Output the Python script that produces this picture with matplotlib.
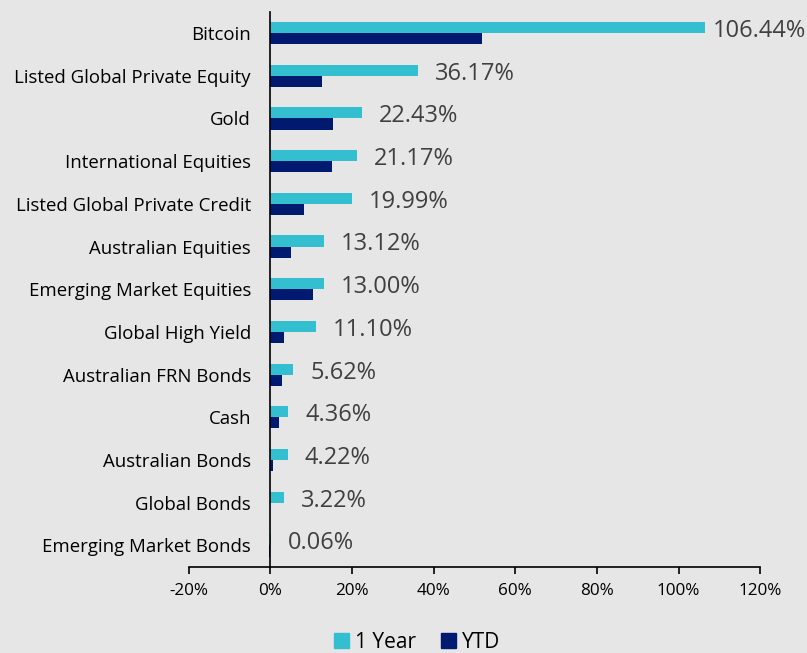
import matplotlib.pyplot as plt
from matplotlib.patches import Patch
import numpy as np

plt.rcParams['font.family'] = ['Open Sans', 'DejaVu Sans']

# asset class returns (%)
categories = ['Bitcoin', 'Listed Global Private Equity', 'Gold', 'International Equities',
              'Listed Global Private Credit', 'Australian Equities', 'Emerging Market Equities',
              'Global High Yield', 'Australian FRN Bonds', 'Cash', 'Australian Bonds',
              'Global Bonds', 'Emerging Market Bonds']
one_year = [106.44, 36.17, 22.43, 21.17, 19.99, 13.12, 13.00, 11.10, 5.62, 4.36, 4.22, 3.22, 0.06]
ytd = [51.9, 12.6, 15.3, 15.2, 8.1, 5.0, 10.4, 3.4, 2.8, 2.0, 0.6, 0.0, -0.4]
xticks = [-20, 0, 20, 40, 60, 80, 100, 120]
xtick_labels = ['-20%', '0%', '20%', '40%', '60%', '80%', '100%', '120%']

bg = '#E6E6E6'
c_year = '#33BFCF'
c_ytd = '#001A70'

fig = plt.figure(figsize=(8.07, 6.53), dpi=100, facecolor=bg)
ax = fig.add_axes([0.234, 0.132, 0.708, 0.850])
ax.set_facecolor(bg)

# category axis sits on x = 0 (set first: moving the spine resets tick styling)
ax.spines['left'].set_position(('data', 0))
ax.spines['left'].set_color('black')
ax.spines['left'].set_linewidth(1.2)
ax.spines['bottom'].set_linewidth(1.2)
ax.spines['top'].set_visible(False)
ax.spines['right'].set_visible(False)

y = np.arange(len(categories))
h = 0.26
ax.barh(y - h / 2, one_year, height=h, color=c_year, label='1 Year')
ax.barh(y + h / 2, ytd, height=h, color=c_ytd, label='YTD')

# value labels beside the 1 Year bars, kept inside the figure
for yi, v in zip(y, one_year):
    xpos = min(v + 4.2, 108.3)
    ax.text(xpos, yi - 0.05, f'{v:.2f}%', va='center', ha='left',
            fontsize=17, color='#404040')

ax.set_xlim(-20, 120)
ax.set_ylim(len(categories) - 0.5, -0.5)
ax.set_xticks(xticks)
ax.set_xticklabels(xtick_labels, fontsize=12.3)
ax.set_yticks(y)
ax.set_yticklabels(categories, fontsize=13.4)
ax.tick_params(axis='y', length=0, pad=14)
ax.tick_params(axis='x', length=5, width=1.2, direction='out', pad=7)

handles = [Patch(color=c_year, label='1 Year'), Patch(color=c_ytd, label='YTD')]
fig.legend(handles=handles, loc='center', bbox_to_anchor=(0.517, 0.016), ncol=2,
           frameon=False, fontsize=15, handlelength=0.7, handleheight=0.7,
           handletextpad=0.3, columnspacing=1.2)

fig.savefig('out.png', dpi=100, facecolor=bg)
